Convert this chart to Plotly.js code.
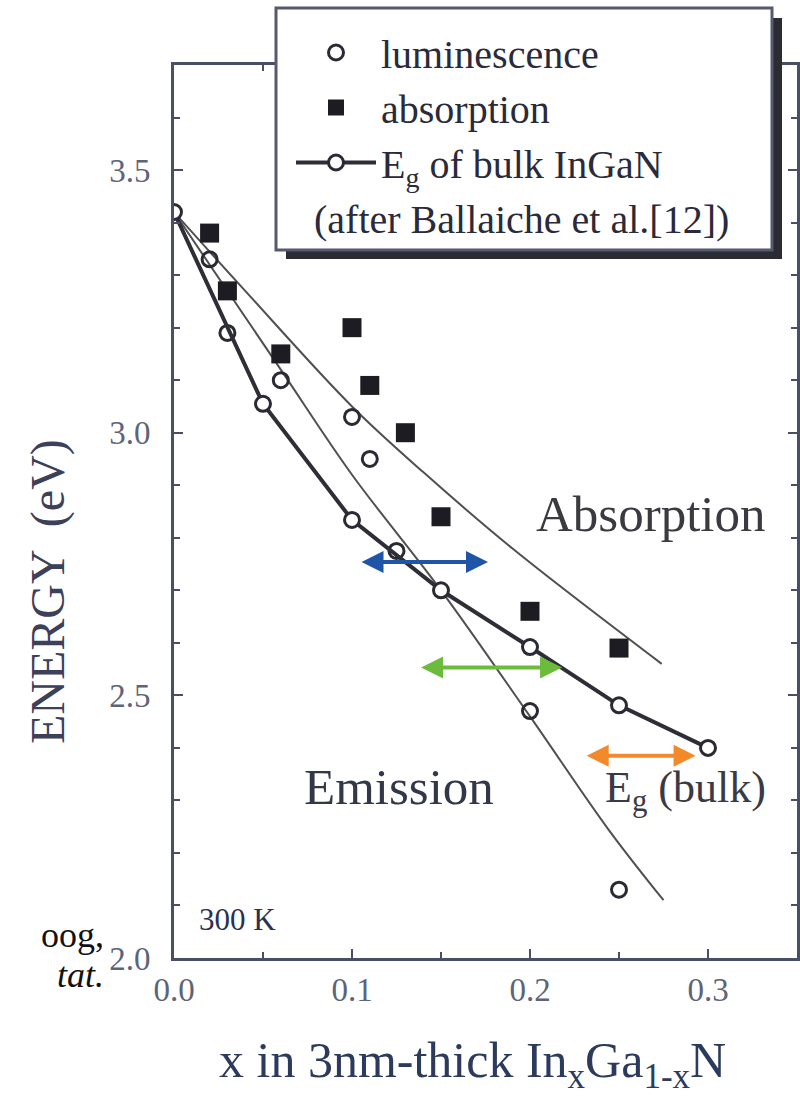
<!DOCTYPE html>
<html>
<head>
<meta charset="utf-8">
<script src="https://cdn.plot.ly/plotly-3.0.1.min.js"></script>
<style>
  html, body { margin: 0; padding: 0; background: #ffffff; }
  #chart { width: 800px; height: 1100px; }
</style>
</head>
<body>
<div id="chart"></div>
<script>
// Measured transition energies of 3 nm InGaN wells vs. indium fraction x
const lumX  = [0.02, 0.03, 0.06, 0.10, 0.11, 0.125, 0.20, 0.25];
const lumE  = [3.33, 3.19, 3.10, 3.03, 2.95, 2.775, 2.47, 2.13];
const absX  = [0.02, 0.03, 0.06, 0.10, 0.11, 0.13, 0.15, 0.20, 0.25];
const absE  = [3.38, 3.27, 3.15, 3.20, 3.09, 3.00, 2.84, 2.66, 2.59];
// Bulk InGaN band gap (Bellaiche et al.)
const bulkX = [0, 0.05, 0.10, 0.15, 0.20, 0.25, 0.30];
const bulkE = [3.42, 3.055, 2.834, 2.70, 2.592, 2.481, 2.40];
// Guide curves through the absorption and emission data
const absFitX = [0, 0.04, 0.10, 0.14, 0.19, 0.274];
const absFitE = [3.42, 3.27, 3.05, 2.925, 2.78, 2.56];
const emFitX  = [0, 0.06, 0.10, 0.15, 0.20, 0.244, 0.275];
const emFitE  = [3.42, 3.12, 2.92, 2.70, 2.46, 2.245, 2.11];

const xTicks = [0, 0.1, 0.2, 0.3];
const xTickText = ['0.0', '0.1', '0.2', '0.3'];
const yTicks = [2.0, 2.5, 3.0, 3.5];
const yTickText = ['2.0', '2.5', '3.0', '3.5'];

const SERIF = '"Liberation Serif", "Times New Roman", serif';
const AX = '#4a4f66';

const traces = [
  { x: absFitX, y: absFitE, mode: 'lines', line: { color: '#505050', width: 2, shape: 'spline' },
    showlegend: false, hoverinfo: 'skip' },
  { x: emFitX, y: emFitE, mode: 'lines', line: { color: '#505050', width: 2, shape: 'spline' },
    showlegend: false, hoverinfo: 'skip' },
  { x: lumX, y: lumE, mode: 'markers', name: 'luminescence', legendgroup: 'a',
    marker: { symbol: 'circle-open', size: 15, color: '#2a2a35', line: { width: 3 } } },
  { x: absX, y: absE, mode: 'markers', name: 'absorption', legendgroup: 'b',
    marker: { symbol: 'square', size: 19, color: '#1c1c22' } },
  { x: bulkX, y: bulkE, mode: 'lines+markers', name: 'E<sub>g</sub> of bulk InGaN', legendgroup: 'c',
    line: { color: '#2e2e36', width: 4 },
    marker: { symbol: 'circle', size: 15, color: '#ffffff', line: { color: '#2a2a35', width: 3 } } }
];

// plot area: 174..797 px horizontally, 65..958 px vertically
const px2x = p => (p - 174) / 623;
const px2y = p => (958 - p) / 893;

function arrow(x0, x1, y, color) {
  return { x: x1, y: y, ax: x0, ay: y, xref: 'x', yref: 'y', axref: 'x', ayref: 'y',
    text: '', showarrow: true, arrowside: 'end+start', arrowhead: 2, arrowsize: 1.1,
    arrowwidth: 4, arrowcolor: color, standoff: 0, startstandoff: 0 };
}

function label(xref, yref, x, y, text, size, color, extra) {
  return Object.assign({ xref: xref, yref: yref, x: x, y: y, text: text, showarrow: false,
    xanchor: 'center', yanchor: 'middle',
    font: { family: SERIF, size: size, color: color } }, extra || {});
}

const layout = {
  width: 800, height: 1100,
  margin: { l: 174, r: 3, t: 65, b: 142 },
  paper_bgcolor: '#ffffff', plot_bgcolor: '#ffffff',
  font: { family: SERIF, color: '#2a2a35' },
  xaxis: {
    range: [0, 0.35], tickvals: xTicks, ticktext: xTickText,
    ticks: 'inside', ticklen: 9, tickwidth: 2, tickcolor: AX,
    minor: { dtick: 0.05, tick0: 0, ticks: 'inside', ticklen: 6, tickwidth: 2, tickcolor: AX },
    showline: true, linewidth: 3, linecolor: AX, mirror: 'ticks',
    showgrid: false, zeroline: false,
    tickfont: { family: SERIF, size: 33, color: '#5e6478' }, ticklabelstandoff: 0
  },
  yaxis: {
    range: [2.0, 3.7], tickvals: yTicks, ticktext: yTickText,
    ticks: 'inside', ticklen: 9, tickwidth: 2, tickcolor: AX,
    minor: { dtick: 0.1, tick0: 2.0, ticks: 'inside', ticklen: 6, tickwidth: 2, tickcolor: AX },
    showline: true, linewidth: 3, linecolor: AX, mirror: 'ticks',
    showgrid: false, zeroline: false,
    tickfont: { family: SERIF, size: 33, color: '#5e6478' }, ticklabelstandoff: 14
  },
  showlegend: true,
  legend: {
    x: px2x(291), y: px2y(20), xanchor: 'left', yanchor: 'top',
    bgcolor: 'rgba(0,0,0,0)', borderwidth: 0,
    font: { family: SERIF, size: 40, color: '#2a2a3a' },
    itemwidth: 80, tracegroupgap: 5, traceorder: 'normal'
  },
  shapes: [
    // legend frame with drop shadow
    { type: 'rect', xref: 'paper', yref: 'paper', layer: 'above',
      x0: px2x(286), x1: px2x(782), y0: px2y(259), y1: px2y(18),
      fillcolor: '#2b2b33', line: { width: 0 } },
    { type: 'rect', xref: 'paper', yref: 'paper', layer: 'above',
      x0: px2x(276), x1: px2x(772), y0: px2y(250), y1: px2y(8),
      fillcolor: '#ffffff', line: { color: '#555a6e', width: 3 } }
  ],
  annotations: [
    label('paper', 'paper', px2x(312), px2y(220), '(after Ballaiche et al.[12])', 40, '#2a2a3a',
      { xanchor: 'left' }),
    label('x', 'y', 0.268, 2.845, 'Absorption', 51, '#3a3a40'),
    label('x', 'y', 0.1264, 2.326, 'Emission', 51, '#333848'),
    label('x', 'y', 0.241, 2.318, 'E<sub>g</sub> (bulk)', 44, '#3a3a44', { xanchor: 'left' }),
    label('x', 'y', 0.013, 2.073, '300 K', 31, '#2c3050', { xanchor: 'left' }),
    // axis titles
    label('paper', 'paper', px2x(48), px2y(592), 'ENERGY  (eV)', 48, '#3c4058', { textangle: -90 }),
    label('paper', 'paper', px2x(472), px2y(1064),
      'x in 3nm-thick In<sub>x</sub>Ga<sub>1-x</sub>N', 50, '#2c3a5c'),
    // neighbouring page text
    label('paper', 'paper', px2x(106), px2y(935), 'oog,', 36, '#111111', { xanchor: 'right' }),
    label('paper', 'paper', px2x(106), px2y(975), '<i>tat.</i>', 36, '#111111', { xanchor: 'right' }),
    // shift arrows
    arrow(0.1045, 0.1764, 2.754, '#1f55a6'),
    arrow(0.138, 0.218, 2.553, '#6cbb3c'),
    arrow(0.231, 0.293, 2.385, '#f28a2a')
  ]
};

Plotly.newPlot('chart', traces, layout, { displayModeBar: false, staticPlot: true });
</script>
</body>
</html>
